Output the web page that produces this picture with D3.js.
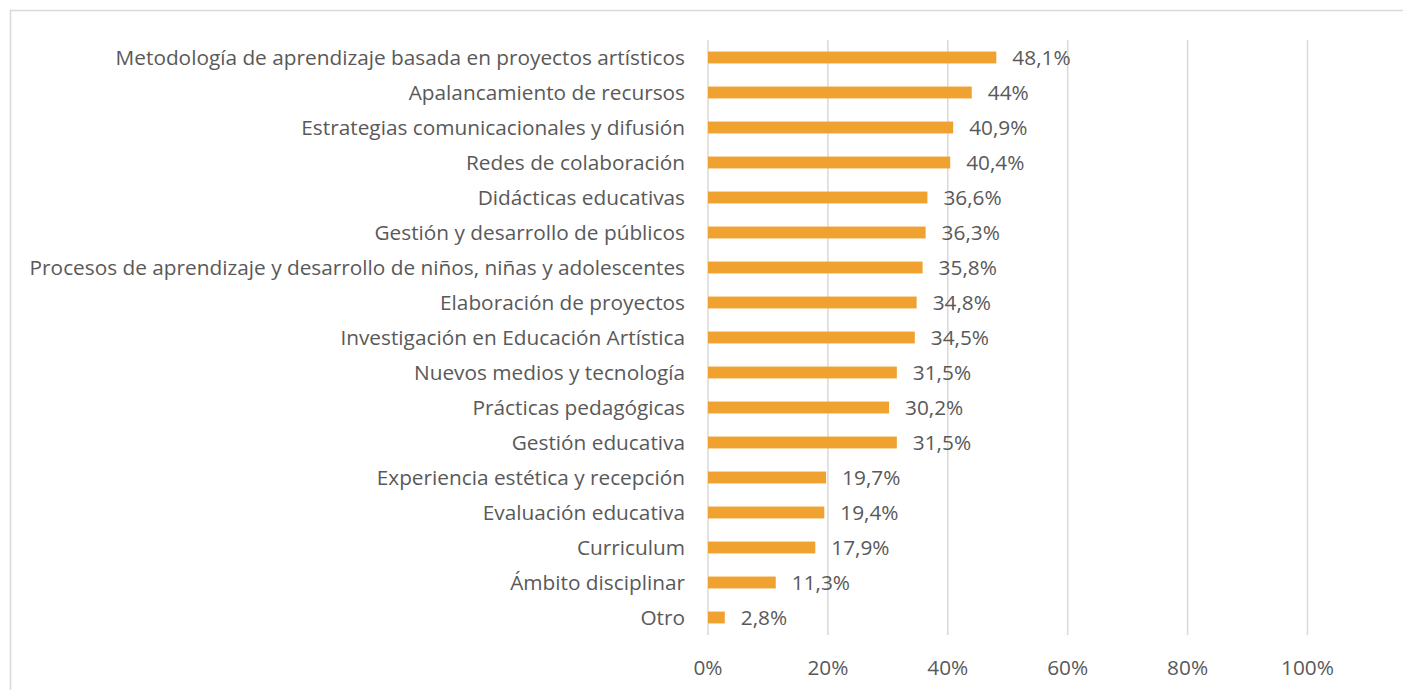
<!DOCTYPE html>
<html>
<head>
<meta charset="utf-8">
<script src="https://cdn.jsdelivr.net/npm/d3@7"></script>
<style>
  html, body { margin: 0; padding: 0; background: #ffffff; }
  svg { display: block; }
</style>
</head>
<body>
<svg id="chart" width="1403" height="690"></svg>
<script>
// Categories, top to bottom
const categories = [
  "Metodología de aprendizaje basada en proyectos artísticos",
  "Apalancamiento de recursos",
  "Estrategias comunicacionales y difusión",
  "Redes de colaboración",
  "Didácticas educativas",
  "Gestión y desarrollo de públicos",
  "Procesos de aprendizaje y desarrollo de niños, niñas y adolescentes",
  "Elaboración de proyectos",
  "Investigación en Educación Artística",
  "Nuevos medios y tecnología",
  "Prácticas pedagógicas",
  "Gestión educativa",
  "Experiencia estética y recepción",
  "Evaluación educativa",
  "Curriculum",
  "Ámbito disciplinar",
  "Otro"
];
// Share of responses (%)
const values = [48.1, 44, 40.9, 40.4, 36.6, 36.3, 35.8, 34.8, 34.5, 31.5, 30.2, 31.5, 19.7, 19.4, 17.9, 11.3, 2.8];
// Axis ticks (%)
const tickValues = [0, 20, 40, 60, 80, 100];

const svg = d3.select("#chart");
const FONT = "'Open Sans', Lato, sans-serif";
const FS = 20.8;
const CAP_HALF = 7.3;   // half the cap height, to centre text on a bar
const TEXT = "#595959";

// Outer chart frame (continues past the right and bottom edges)
svg.append("rect")
  .attr("x", 10.5).attr("y", 10.5)
  .attr("width", 1420).attr("height", 700)
  .attr("fill", "none").attr("stroke", "#d9d9d9").attr("stroke-width", 1.5);

const x = d3.scaleLinear().domain([0, 100]).range([708, 1307.5]);
const y = d3.scaleBand().domain(categories).range([40, 635]).paddingInner(0.66).paddingOuter(0.33);
const mid = c => y(c) + y.bandwidth() / 2;

// Vertical gridlines
svg.append("g").selectAll("line")
  .data(tickValues)
  .join("line")
  .attr("x1", d => x(d)).attr("x2", d => x(d))
  .attr("y1", 40).attr("y2", 635)
  .attr("stroke", "#d9d9d9").attr("stroke-width", 1.5);

// Bars
svg.append("g").selectAll("rect")
  .data(values)
  .join("rect")
  .attr("x", x(0))
  .attr("y", (d, i) => y(categories[i]))
  .attr("width", d => x(d) - x(0))
  .attr("height", y.bandwidth())
  .attr("fill", "#f0a230");

const fmt = v => String(v).replace(".", ",") + "%";

// Value labels
svg.append("g").selectAll("text")
  .data(values)
  .join("text")
  .attr("x", d => x(d) + 16)
  .attr("y", (d, i) => mid(categories[i]) + CAP_HALF + 0.5)
  .attr("font-family", FONT).attr("font-size", FS)
  .attr("fill", TEXT)
  .text(fmt);

// Category labels
svg.append("g").selectAll("text")
  .data(categories)
  .join("text")
  .attr("x", 685)
  .attr("y", d => mid(d) + CAP_HALF)
  .attr("text-anchor", "end")
  .attr("font-family", FONT).attr("font-size", FS)
  .attr("fill", TEXT)
  .text(d => d);

// Bottom axis labels
svg.append("g").selectAll("text")
  .data(tickValues)
  .join("text")
  .attr("x", d => x(d))
  .attr("y", 675)
  .attr("text-anchor", "middle")
  .attr("font-family", FONT).attr("font-size", FS)
  .attr("fill", TEXT)
  .text(d => d + "%");
</script>
</body>
</html>
